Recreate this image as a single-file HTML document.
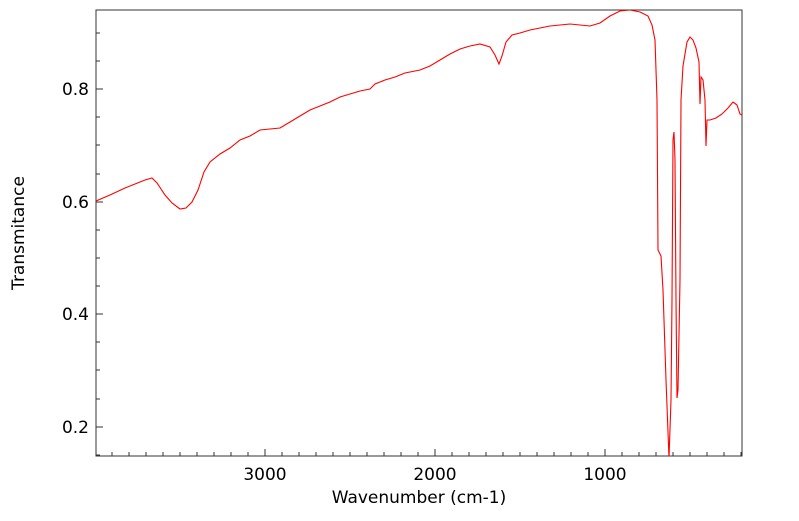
<!DOCTYPE html>
<html><head><style>
body{margin:0;background:#fff;}
text{font-family:"DejaVu Sans","Liberation Sans",sans-serif;font-size:17px;fill:#000;}
</style></head><body>
<svg width="799" height="516" xmlns="http://www.w3.org/2000/svg">
<defs><clipPath id="c"><rect x="96" y="10" width="646" height="446"/></clipPath></defs>
<rect x="96" y="10" width="646" height="446" fill="none" stroke="#333" stroke-width="1"/>
<g stroke="#333" stroke-width="1">
<path d="M265,456v-7M435,456v-7M605,456v-7"/>
<path d="M112,456v-4M129,456v-4M146,456v-4M163,456v-4M180,456v-4M197,456v-4M214,456v-4M231,456v-4M248,456v-4M282,456v-4M299,456v-4M316,456v-4M333,456v-4M350,456v-4M367,456v-4M384,456v-4M401,456v-4M418,456v-4M452,456v-4M469,456v-4M486,456v-4M503,456v-4M520,456v-4M537,456v-4M554,456v-4M571,456v-4M588,456v-4M622,456v-4M639,456v-4M656,456v-4M673,456v-4M690,456v-4M707,456v-4M724,456v-4M741,456v-4"/>
<path d="M96,89h7M96,202h7M96,314h7M96,427h7"/>
<path d="M96,33h4M96,61h4M96,117h4M96,145h4M96,174h4M96,230h4M96,258h4M96,286h4M96,342h4M96,370h4M96,399h4M96,455h4"/>
</g>
<text x="265" y="480" text-anchor="middle">3000</text>
<text x="435" y="480" text-anchor="middle">2000</text>
<text x="605" y="480" text-anchor="middle">1000</text>
<text x="89" y="95" text-anchor="end">0.8</text>
<text x="89" y="208" text-anchor="end">0.6</text>
<text x="89" y="320" text-anchor="end">0.4</text>
<text x="89" y="433" text-anchor="end">0.2</text>
<text x="419" y="503" text-anchor="middle">Wavenumber (cm-1)</text>
<text transform="translate(24,233) rotate(-90)" text-anchor="middle">Transmitance</text>
<g clip-path="url(#c)">
<polyline fill="none" stroke="#f00" stroke-width="1.1" points="96,201 110,195 125,188 135,184 145,180 152,178 157,183 165,195 172,203 180,209 186,208 192,202 198,190 204,172 210,162 220,154 230,148 240,140 250,136 260,130 270,129 280,128 290,122 300,116 310,110 320,106 330,102 340,97 350,94 360,91 370,89 375,84 385,80 395,77 405,73 420,70 430,66 440,60 450,54 460,49 470,46 480,44 490,47 495,55 499,64 502,56 506,42 512,35 520,33 530,30 540,28 550,26 560,25 570,24 580,25 590,26 600,23 610,16 620,11 630,10 640,12 648,16 652,25 655,40 657,100 658,250 661,256 663,290 666,380 669,458 671,400 672,300 673,140 674,132 675,160 676,300 677,398 678,390 680,280 681,100 683,66 687,42 690,37 693,40 696,48 699,62 700,104 701,77 703,80 705,100 706,146 707,120 710,120 716,118 722,114 728,108 733,102 737,105 740,114 742,115"/>
</g>
</svg>
</body></html>
